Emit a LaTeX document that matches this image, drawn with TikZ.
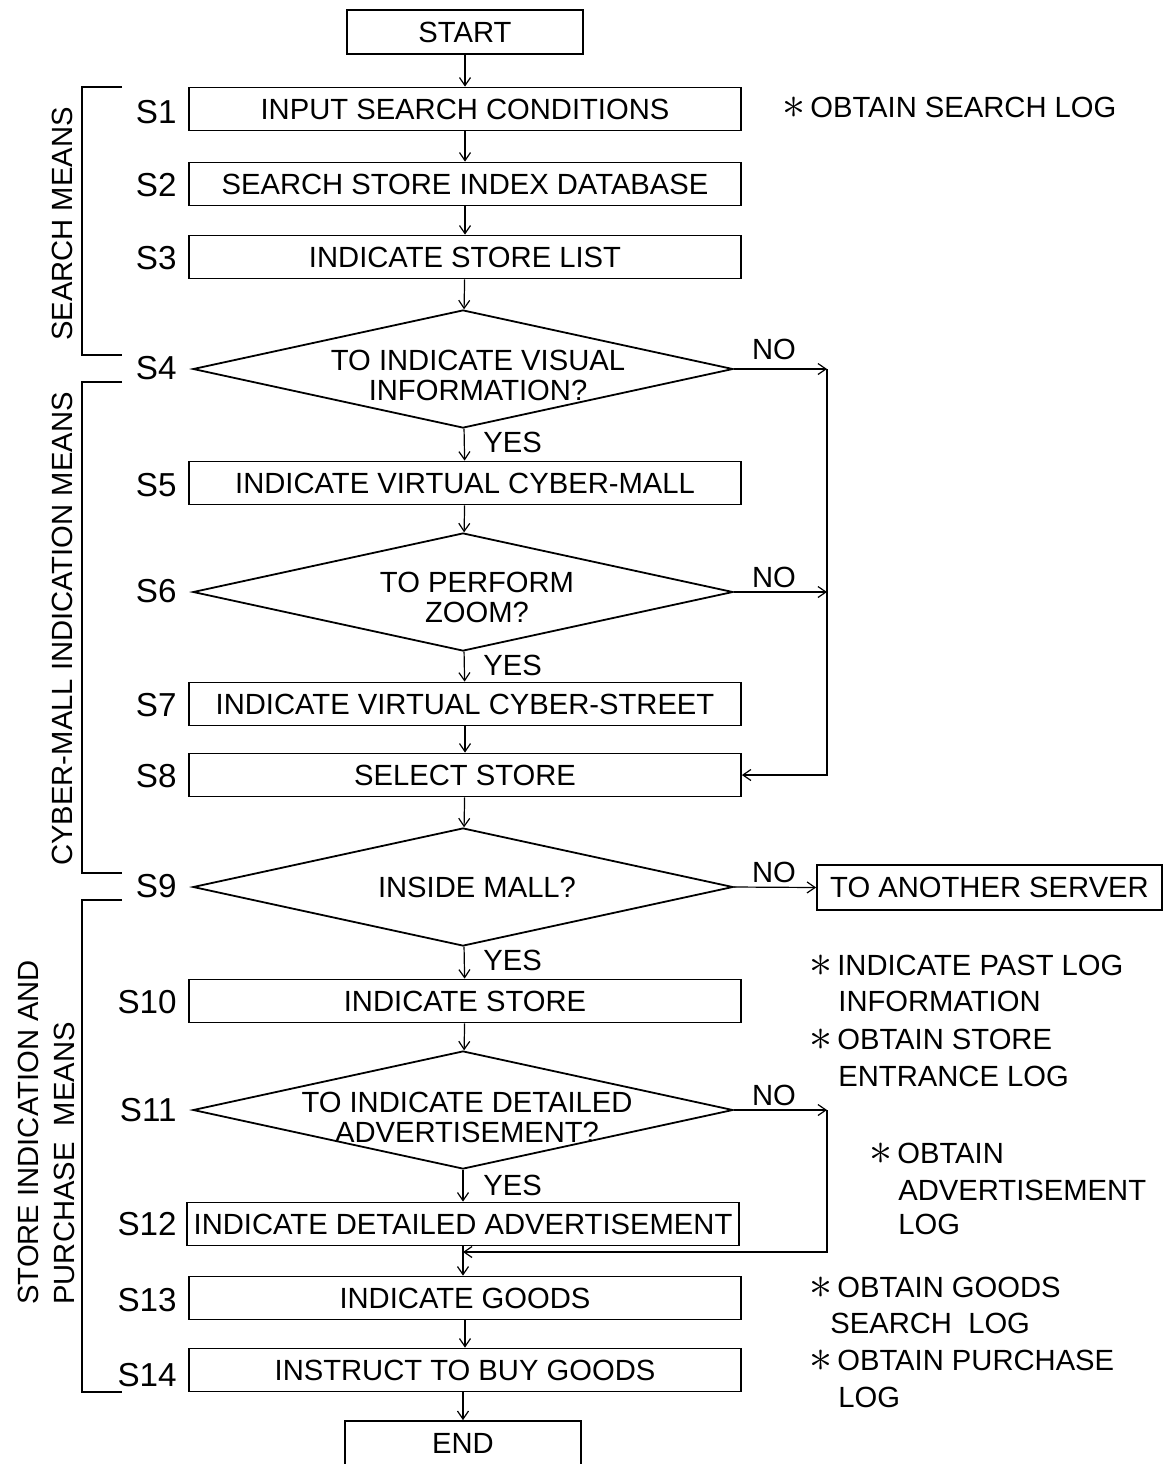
\documentclass[tikz,border=0pt]{standalone}
\usepackage{fontspec}
\setmainfont{Liberation Sans}
\usetikzlibrary{shapes.geometric,arrows.meta}
\newcommand{\mkstar}{\raisebox{-0.5pt}{\scalebox{1.6}{$\ast$}}\,}
\begin{document}
\begin{tikzpicture}[x=0.5pt,y=-0.5pt,
  every node/.style={font=\fontsize{14.6}{15}\selectfont, inner sep=0pt},
  box/.style={draw, line width=0.9pt, minimum width=276pt, minimum height=21.5pt},
  term/.style={draw, line width=0.9pt, minimum width=118pt, minimum height=22pt},
  dec/.style={draw, diamond, line width=0.9pt, minimum width=270pt, minimum height=59pt, aspect=4.5},
  dtext/.style={align=center},
  stp/.style={anchor=east, font=\fontsize{16.6}{17}\selectfont},
  note/.style={anchor=west},
  arr/.style={line width=0.6pt, -{Straight Barb[length=4pt,width=5.5pt]}},
  ln/.style={line width=0.6pt},
  brk/.style={line width=0.6pt},
  side/.style={rotate=90},
]
\useasboundingbox (0,0) rectangle (1164,1464);

% terminals and boxes
\node[term] (start) at (465,32) {START};
\node[box] (s1) at (465,109) {INPUT SEARCH CONDITIONS};
\node[box] (s2) at (465,184) {SEARCH STORE INDEX DATABASE};
\node[box] (s3) at (465,257) {INDICATE STORE LIST};
\node[dec] (d4) at (463,369) {};
\node[dtext] (t4) at (478,375) {TO INDICATE VISUAL\\INFORMATION?};
\node[box] (s5) at (465,483) {INDICATE VIRTUAL CYBER-MALL};
\node[dec] (d6) at (463,592) {};
\node[dtext] (t6) at (477,597) {TO PERFORM\\ZOOM?};
\node[box] (s7) at (465,704) {INDICATE VIRTUAL CYBER-STREET};
\node[box] (s8) at (465,775) {SELECT STORE};
\node[dec] (d9) at (463,887) {};
\node[dtext] (t9) at (477,887) {INSIDE MALL?};
\node[draw, line width=0.9pt, minimum width=172.5pt, minimum height=22.5pt] (other) at (989.5,887.5) {TO ANOTHER SERVER};
\node[box] (s10) at (465,1001) {INDICATE STORE};
\node[dec] (d11) at (463,1110) {};
\node[dtext] (t11) at (467,1117) {TO INDICATE DETAILED\\ADVERTISEMENT?};
\node[box] (s12) at (463,1224) {INDICATE DETAILED ADVERTISEMENT};
\node[box] (s13) at (465,1298) {INDICATE GOODS};
\node[box] (s14) at (465,1370) {INSTRUCT TO BUY GOODS};
\node[term] (end) at (463,1443) {END};

% step labels
\node[stp] (l1) at (177,112) {S1};
\node[stp] (l2) at (177,185) {S2};
\node[stp] (l3) at (177,258) {S3};
\node[stp] (l4) at (177,368) {S4};
\node[stp] (l5) at (177,485) {S5};
\node[stp] (l6) at (177,591) {S6};
\node[stp] (l7) at (177,705) {S7};
\node[stp] (l8) at (177,776) {S8};
\node[stp] (l9) at (177,886) {S9};
\node[stp] (l10) at (177,1002) {S10};
\node[stp] (l11) at (177,1110) {S11};
\node[stp] (l12) at (177,1224) {S12};
\node[stp] (l13) at (177,1300) {S13};
\node[stp] (l14) at (177,1375) {S14};

% main flow
\draw[arr] (start) -- (s1);
\draw[arr] (s1) -- (s2);
\draw[arr] (s2) -- (s3);
\draw[arr] (s3) -- (d4);
\draw[arr] (d4) -- (s5);
\draw[arr] (s5) -- (d6);
\draw[arr] (d6) -- (s7);
\draw[arr] (s7) -- (s8);
\draw[arr] (s8) -- (d9);
\draw[arr] (d9) -- (s10);
\draw[arr] (s10) -- (d11);
\draw[arr] (d11.south) -- (d11.south |- s12.north);
\draw[arr] (s12.south -| d11.south) -- (d11.south |- s13.north);
\draw[arr] (s13) -- (s14);
\draw[arr] (s14.south -| end.north) -- (end);

% YES labels
\node[anchor=west] (y4) at (483,442) {YES};
\node[anchor=west] (y6) at (483,665) {YES};
\node[anchor=west] (y9) at (483,960) {YES};
\node[anchor=west] (y11) at (483,1185) {YES};

% NO branches
\coordinate (r4) at (827,369);
\coordinate (r6) at (827,592);
\coordinate (r11) at (827,1110);
\coordinate (j12) at (463,1252);
\draw[arr] (d4.east) -- (r4);
\draw[arr] (d6.east) -- (r6);
\draw[arr] (r4) |- (s8.east);
\draw[arr] (d9.east) -- (other.west);
\draw[arr] (d11.east) -- (r11);
\draw[arr] (r11) |- (j12);
\node (n4) at (774,349) {NO};
\node (n6) at (774,577) {NO};
\node (n9) at (774,872) {NO};
\node (n11) at (774,1095) {NO};

% brackets
\draw[brk] (122,87) -- (82,87) -- (82,355) -- (122,355);
\draw[brk] (122,382) -- (82,382) -- (82,873) -- (122,873);
\draw[brk] (122,900) -- (82,900) -- (82,1392) -- (122,1392);
\node[side] (g1) at (62,224) {SEARCH MEANS};
\node[side] (g2) at (62,629) {CYBER-MALL INDICATION MEANS};
\node[side, anchor=west] (g3a) at (28,1305) {STORE INDICATION AND};
\node[side, anchor=west] (g3b) at (64,1305) {PURCHASE\ \ MEANS};

% notes
\node[note] (a1) at (782,108) {\mkstar OBTAIN SEARCH LOG};
\node[note] (a2) at (809,966) {\mkstar INDICATE PAST LOG};
\node[note] (a2b) at (838,1001) {INFORMATION};
\node[note] (a3) at (809,1040) {\mkstar OBTAIN STORE};
\node[note] (a3b) at (838,1076) {ENTRANCE LOG};
\node[note] (a4) at (869,1154) {\mkstar OBTAIN};
\node[note] (a4b) at (898,1190) {ADVERTISEMENT};
\node[note] (a4c) at (898,1224) {LOG};
\node[note] (a5) at (809,1288) {\mkstar OBTAIN GOODS};
\node[note] (a5b) at (830,1323) {SEARCH\ \ LOG};
\node[note] (a6) at (809,1361) {\mkstar OBTAIN PURCHASE};
\node[note] (a6b) at (838,1397) {LOG};
\end{tikzpicture}
\end{document}
